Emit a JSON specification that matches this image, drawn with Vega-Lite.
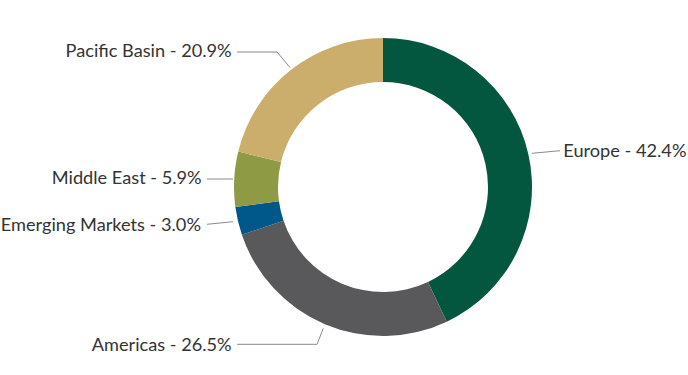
{
  "$schema": "https://vega.github.io/schema/vega-lite/v6.json",
  "width": 688,
  "height": 375,
  "autosize": {"type": "fit", "contains": "padding"},
  "padding": 0,
  "background": "white",
  "view": {"stroke": null},
  "datasets": {
    "slices": [
      {"region": "Europe", "value": 42.4, "order": 1},
      {"region": "Americas", "value": 26.5, "order": 2},
      {"region": "Emerging Markets", "value": 3.0, "order": 3},
      {"region": "Middle East", "value": 5.9, "order": 4},
      {"region": "Pacific Basin", "value": 20.9, "order": 5}
    ],
    "leaders": [
      {"region": "Pacific Basin", "pt": 1, "x": -146, "y": 135},
      {"region": "Pacific Basin", "pt": 2, "x": -106, "y": 135},
      {"region": "Pacific Basin", "pt": 3, "x": -93, "y": 119.5},
      {"region": "Middle East", "pt": 1, "x": -176, "y": 8},
      {"region": "Middle East", "pt": 2, "x": -150, "y": 8},
      {"region": "Emerging Markets", "pt": 1, "x": -176, "y": -37.3},
      {"region": "Emerging Markets", "pt": 2, "x": -150, "y": -34.7},
      {"region": "Americas", "pt": 1, "x": -146, "y": -157.3},
      {"region": "Americas", "pt": 2, "x": -66, "y": -157.3},
      {"region": "Americas", "pt": 3, "x": -59.7, "y": -141.3},
      {"region": "Europe", "pt": 1, "x": 149, "y": 33.7},
      {"region": "Europe", "pt": 2, "x": 177, "y": 36.3}
    ],
    "labels": [
      {"text": "Pacific Basin - 20.9%", "side": "left", "x": -151.3, "y": 129.7},
      {"text": "Middle East - 5.9%", "side": "left", "x": -181.3, "y": 3},
      {"text": "Emerging Markets - 3.0%", "side": "left", "x": -182, "y": -43.7},
      {"text": "Americas - 26.5%", "side": "left", "x": -151.3, "y": -163.7},
      {"text": "Europe - 42.4%", "side": "right", "x": 180.3, "y": 30.3}
    ]
  },
  "layer": [
    {
      "data": {"name": "slices"},
      "mark": {"type": "arc", "innerRadius": 105, "outerRadius": 149},
      "encoding": {
        "theta": {"field": "value", "type": "quantitative", "stack": true},
        "order": {"field": "order", "type": "quantitative"},
        "color": {
          "field": "region",
          "type": "nominal",
          "scale": {
            "domain": ["Europe", "Americas", "Emerging Markets", "Middle East", "Pacific Basin"],
            "range": ["#04573f", "#59595b", "#00578a", "#8f9a44", "#cbae6b"]
          },
          "legend": null
        },
        "x": {"datum": 0, "type": "quantitative", "scale": {"domain": [-383, 305], "nice": false, "zero": false}, "axis": null},
        "y": {"datum": 0, "type": "quantitative", "scale": {"domain": [-188, 187], "nice": false, "zero": false}, "axis": null}
      }
    },
    {
      "data": {"name": "leaders"},
      "mark": {"type": "line", "color": "#8a8a8a", "strokeWidth": 1},
      "encoding": {
        "x": {"field": "x", "type": "quantitative"},
        "y": {"field": "y", "type": "quantitative"},
        "detail": {"field": "region"},
        "order": {"field": "pt", "type": "quantitative"}
      }
    },
    {
      "data": {"name": "labels"},
      "transform": [{"filter": "datum.side === 'left'"}],
      "mark": {"type": "text", "align": "right", "baseline": "alphabetic", "font": "Lato", "fontSize": 18.2, "fontWeight": 400, "color": "#333333"},
      "encoding": {
        "x": {"field": "x", "type": "quantitative"},
        "y": {"field": "y", "type": "quantitative"},
        "text": {"field": "text"}
      }
    },
    {
      "data": {"name": "labels"},
      "transform": [{"filter": "datum.side === 'right'"}],
      "mark": {"type": "text", "align": "left", "baseline": "alphabetic", "font": "Lato", "fontSize": 18.2, "fontWeight": 400, "color": "#333333"},
      "encoding": {
        "x": {"field": "x", "type": "quantitative"},
        "y": {"field": "y", "type": "quantitative"},
        "text": {"field": "text"}
      }
    }
  ]
}
